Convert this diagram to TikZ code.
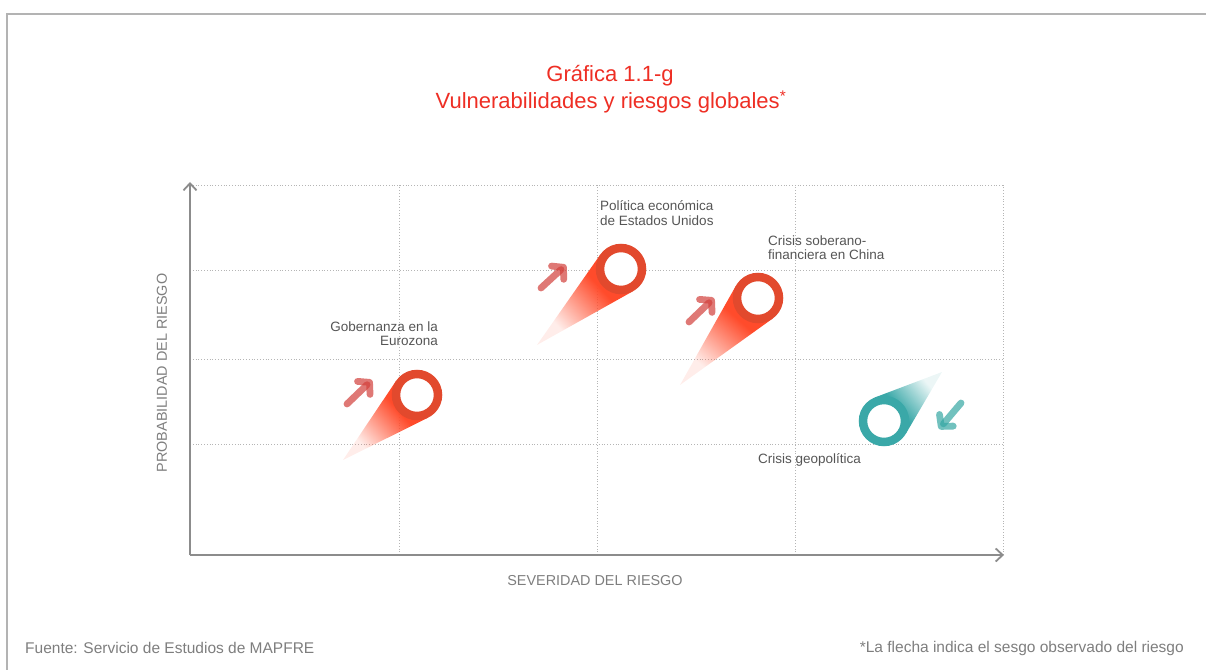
\documentclass[tikz,border=0pt]{standalone}
\usepackage{fontspec}
\setmainfont{Liberation Sans}
\usetikzlibrary{arrows.meta,fadings,calc}
\definecolor{ringred}{HTML}{E2492D}
\definecolor{tailred}{HTML}{FF4B2B}
\definecolor{arrred}{HTML}{D23F3A}
\definecolor{ringteal}{HTML}{3AA8A8}
\definecolor{tailteal}{HTML}{3AA8A8}
\definecolor{arrteal}{HTML}{34A6A3}
\definecolor{titlered}{HTML}{EE2E24}
\definecolor{labelgray}{HTML}{555555}
\definecolor{axisgray}{HTML}{8C8C8C}
\definecolor{gridgray}{HTML}{B5B5B5}
\definecolor{framegray}{HTML}{B3B3B3}
\tikzfading[name=tailfade, left color=transparent!90, middle color=transparent!42, right color=transparent!0]
\pgfdeclarelayer{bg}
\pgfsetlayers{bg,main}
\begin{document}
\begin{tikzpicture}[x=1pt,y=1pt,
  ringnode/.style={circle,draw=#1,line width=8.5pt,fill=white,minimum size=42pt,inner sep=0pt},
  tailfill/.style={fill=#1,path fading=tailfade,fit fading=false},
  biasarrow/.style={draw=#1,line width=6.8pt,line cap=round,opacity=0.7,-{Straight Barb[length=8pt,width=18pt,round]}},
  gridline/.style={draw=gridgray,line width=0.8pt,dotted},
  axisline/.style={draw=axisgray,line width=1.8pt,-{Straight Barb[length=7pt,width=13pt]}},
  ptlabel/.style={text=labelgray,font=\fontsize{13.5}{14.5}\selectfont,inner sep=0pt},
  axislabel/.style={text=axisgray!90!black,font=\fontsize{14.4}{16}\selectfont,inner sep=0pt},
  footlabel/.style={text=axisgray!90!black,font=\fontsize{15.5}{17}\selectfont,inner sep=0pt},
  titlelabel/.style={text=titlered,font=\fontsize{22}{26}\selectfont,inner sep=0pt},
]
\useasboundingbox (0,0) rectangle (1206,670);

% circles (nodes)
\node[ringnode=ringred] (cA) at (417,275) {};
\node[ringnode=ringred] (cB) at (621,401) {};
\node[ringnode=ringred] (cC) at (758,372) {};
\node[ringnode=ringteal] (cD) at (884,249) {};

% tail tips
\coordinate (tA) at (343,210);
\coordinate (tB) at (537,325);
\coordinate (tC) at (680,285);
\coordinate (tD) at (942,298);

\begin{pgfonlayer}{bg}
  % frame
  \draw[framegray,line width=2pt] (1206,656) -- (7,656) -- (7,0);
  % grid
  \foreach \y in {485,400,311,226} \draw[gridline] (190,\y) -- (1003,\y);
  \foreach \x in {399,597,795,1003} \draw[gridline] (\x,115) -- (\x,485);
  % axes
  \coordinate (O) at (190,115);
  \coordinate (Ytop) at (190,488);
  \coordinate (Xend) at (1004,115);
  \draw[axisline] (O) -- (Ytop);
  \draw[axisline] (O) -- (Xend);
  % tails
  \fill[tailfill=tailred, fading transform={shift={(380,242.5)},rotate=41,scale=1.0}]
    (tA) -- (tangent cs:node=cA,point={(tA)},solution=1) -- (cA.center) -- (tangent cs:node=cA,point={(tA)},solution=2) -- cycle;
  \fill[tailfill=tailred, fading transform={shift={(579,363)},rotate=42.1,scale=1.14}]
    (tB) -- (tangent cs:node=cB,point={(tB)},solution=1) -- (cB.center) -- (tangent cs:node=cB,point={(tB)},solution=2) -- cycle;
  \fill[tailfill=tailred, fading transform={shift={(719,328.5)},rotate=48.7,scale=1.17}]
    (tC) -- (tangent cs:node=cC,point={(tC)},solution=1) -- (cC.center) -- (tangent cs:node=cC,point={(tC)},solution=2) -- cycle;
  \fill[tailfill=tailteal, fading transform={shift={(913,273.5)},rotate=220.2,scale=0.77}]
    (tD) -- (tangent cs:node=cD,point={(tD)},solution=1) -- (cD.center) -- (tangent cs:node=cD,point={(tD)},solution=2) -- cycle;
\end{pgfonlayer}

% bias arrows
\coordinate (aA1) at (347,266); \coordinate (aA2) at (372,290);
\coordinate (aB1) at (541,382); \coordinate (aB2) at (566,405);
\coordinate (aC1) at (689,348); \coordinate (aC2) at (714,372);
\coordinate (aD1) at (961,267); \coordinate (aD2) at (939,241);
\draw[biasarrow=arrred] (aA1) -- (aA2);
\draw[biasarrow=arrred] (aB1) -- (aB2);
\draw[biasarrow=arrred] (aC1) -- (aC2);
\draw[biasarrow=arrteal] (aD1) -- (aD2);

% labels
\node[ptlabel,anchor=north west,align=left] (lB) at (600,469.5) {Política económica\\de Estados Unidos};
\node[ptlabel,anchor=north west,align=left] (lC) at (768,434.5) {Crisis soberano-\\financiera en China};
\node[ptlabel,anchor=north east,align=right] (lA) at (438,348.5) {Gobernanza en la\\Eurozona};
\node[ptlabel,anchor=west] (lD) at (758,210) {Crisis geopolítica};

% axis labels
\node[axislabel] (xl) at (595,89) {SEVERIDAD DEL RIESGO};
\node[axislabel,rotate=90] (yl) at (162,297) {PROBABILIDAD DEL RIESGO};

% title
\node[titlelabel] (t1) at (610,594) {Gráfica 1.1-g};
\node[titlelabel] (t2) at (611,568) {Vulnerabilidades y riesgos globales\textsuperscript{*}};

% footer
\node[footlabel,anchor=west] (f1) at (25,22) {Fuente: Servicio de Estudios de MAPFRE};
\node[footlabel,anchor=east] (f2) at (1184,22) {*La flecha indica el sesgo observado del riesgo};
\end{tikzpicture}
\end{document}
